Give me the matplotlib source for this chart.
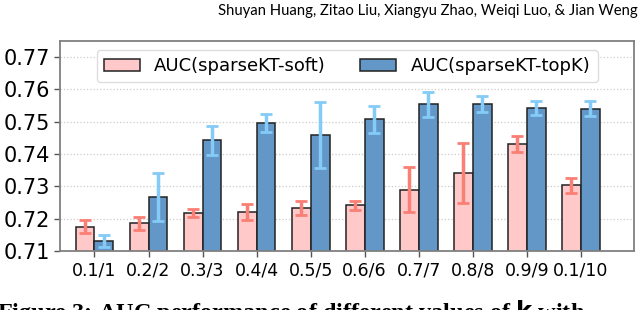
import matplotlib
matplotlib.use("Agg")
import matplotlib.pyplot as plt
import numpy as np

categories = ["0.1/1", "0.2/2", "0.3/3", "0.4/4", "0.5/5", "0.6/6", "0.7/7", "0.8/8", "0.9/9", "0.1/10"]
soft_auc = [0.7175, 0.7186, 0.7218, 0.7221, 0.7234, 0.7242, 0.7290, 0.7341, 0.7431, 0.7303]
soft_err = [0.0020, 0.0020, 0.0012, 0.0025, 0.0021, 0.0014, 0.0070, 0.0092, 0.0025, 0.0023]
topk_auc = [0.7131, 0.7266, 0.7443, 0.7496, 0.7459, 0.7507, 0.7554, 0.7554, 0.7543, 0.7541]
topk_err = [0.0019, 0.0074, 0.0045, 0.0027, 0.0103, 0.0043, 0.0038, 0.0025, 0.0022, 0.0022]
series_labels = ["AUC(sparseKT-soft)", "AUC(sparseKT-topK)"]
yticks = [0.71, 0.72, 0.73, 0.74, 0.75, 0.76, 0.77]

fig = plt.figure(figsize=(6.4, 3.1), dpi=100)
ax = fig.add_axes([0.094, 0.19, 0.897, 0.678])

x = np.arange(len(categories))
w = 0.35
ax.bar(x - w / 2, soft_auc, w, color="#ffc9c9", edgecolor="#222222", linewidth=1.1,
       label=series_labels[0], zorder=2)
ax.bar(x + w / 2, topk_auc, w, color="#6397c8", edgecolor="#222222", linewidth=1.1,
       label=series_labels[1], zorder=2)
ax.errorbar(x - w / 2, soft_auc, yerr=soft_err, fmt="none", ecolor="#fa7f74",
            elinewidth=2.5, capsize=4, capthick=2, zorder=3)
ax.errorbar(x + w / 2, topk_auc, yerr=topk_err, fmt="none", ecolor="#84cbf7",
            elinewidth=2.5, capsize=4, capthick=2, zorder=3)

ax.set_ylim(0.71, 0.775)
ax.set_xlim(-0.635, 9.99)
ax.set_yticks(yticks)
ax.set_yticklabels([f"{v:.2f}" for v in yticks], fontsize=15)
ax.set_xticks(x)
ax.set_xticklabels(categories, fontsize=12.5)
ax.yaxis.grid(True, linestyle=":", color="#cccccc", linewidth=0.9, zorder=0)
ax.set_axisbelow(True)
for s in ax.spines.values():
    s.set_color("#808080")
    s.set_linewidth(1.3)
ax.tick_params(axis="both", colors="#555555", labelcolor="black", length=4, width=1)

ax.legend(loc="upper center", ncol=2, fontsize=13, frameon=True, fancybox=True,
          framealpha=1, edgecolor="#dddddd", borderaxespad=0.5, columnspacing=1.9)

fig.text(0.997, 0.963, "Shuyan Huang, Zitao Liu, Xiangyu Zhao, Weiqi Luo, & Jian Weng",
         ha="right", va="center", fontsize=10.7, family="Lato")
fig.text(-0.005, 0.040, "Figure 3: AUC performance of different values of $\\mathbf{k}$ with",
         ha="left", va="top", fontsize=17.5, family="Liberation Serif", fontweight="bold")

fig.savefig("out.png", dpi=100)
